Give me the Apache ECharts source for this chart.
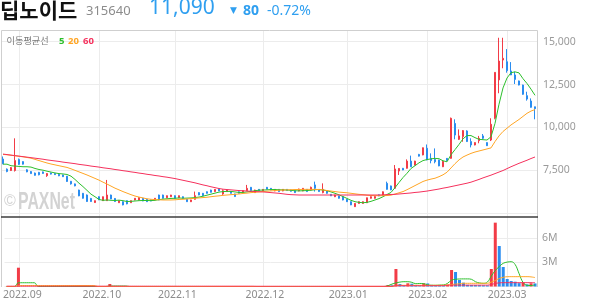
<!DOCTYPE html>
<html><head><meta charset="utf-8">
<script src="https://cdn.jsdelivr.net/npm/echarts@6/dist/echarts.min.js"></script>
<style>html,body{margin:0;padding:0;background:#fff}#c{width:594px;height:304px}</style>
</head><body><div id="c"></div>
<script>
// trading days per month (categories)
const monthDays = [
  ['2022.08', [26,29,30,31]],
  ['2022.09', [1,2,5,6,7,8,13,14,15,16,19,20,21,22,23,26,27,28,29,30]],
  ['2022.10', [4,5,6,7,11,12,13,14,17,18,19,20,21,24,25,26,27,28,31]],
  ['2022.11', [1,2,3,4,7,8,9,10,11,14,15,16,17,18,21,22,23,24,25,28,29,30]],
  ['2022.12', [1,2,5,6,7,8,9,12,13,14,15,16,19,20,21,22,23,26,27,28,29]],
  ['2023.01', [2,3,4,5,6,9,10,11,12,13,16,17,18,19,20,25,26,27,30,31]],
  ['2023.02', [1,2,3,6,7,8,9,10,13,14,15,16,17,20,21,22,23,24,27,28]],
  ['2023.03', [2,3,6,7,8,9,10,13]]
];
const categories = [];
monthDays.forEach(([m, ds]) => ds.forEach(d => categories.push(m + '.' + String(d).padStart(2, '0'))));

// OHLC rows: [open, high, low, close]
const ohlc = [
[8150,8300,7850,7870],[7560,7600,7380,7420],[7480,7680,7450,7650],[7480,9360,7420,8060],[8120,8180,7800,7840],
[8000,8020,7830,7850],[7520,7560,7380,7400],[7420,7450,7290,7300],[7330,7360,7180,7200],[7370,7400,7200,7230],
[7400,7420,7290,7310],[7180,7330,7110,7300],[7330,7360,7250,7270],[7300,7320,7220,7240],[7260,7280,7150,7170],
[7220,7240,7100,7120],[7150,7160,6820,6840],[6850,6870,6660,6700],[6700,6720,6560,6580],[6340,6360,5980,6000],
[6150,6170,5840,5860],[6050,6080,5650,5670],[5850,5880,5650,5670],[5610,5730,5590,5720],[5950,5970,5750,5770],
[5720,5960,5700,5950],[5720,6930,5700,6050],[6050,6070,5810,5820],[5850,5870,5650,5670],[5600,5730,5590,5720],
[5660,5680,5450,5470],[5720,5740,5510,5530],[5600,5730,5590,5720],[5760,5870,5740,5860],[5760,5920,5740,5900],
[5860,5880,5690,5700],[5800,5820,5650,5660],[5760,5780,5690,5700],[5760,5870,5740,5860],[6050,6070,5750,5760],
[6050,6070,5840,5860],[5890,6020,5870,6010],[5950,6060,5930,6050],[6010,6030,5840,5860],[5890,6020,5870,6010],
[5950,5970,5840,5860],[5800,5820,5650,5660],[5660,5770,5640,5760],[5800,6250,5780,6010],[6190,6210,6040,6050],
[6150,6170,6000,6010],[6240,6260,6140,6150],[6340,6360,6200,6210],[6250,6400,6230,6380],[6420,6440,6280,6290],
[6110,6380,6060,6300],[6250,6360,6230,6340],[6240,6260,6140,6150],[6110,6130,5950,5960],[6240,6260,6140,6150],
[6210,6320,6190,6300],[6310,6640,6290,6440],[6500,6520,6300,6310],[6190,6360,6170,6340],[6380,6400,6280,6290],
[6300,6400,6280,6380],[6500,6520,6380,6390],[6440,6460,6330,6340],[6290,6400,6270,6380],[6380,6400,6240,6250],
[6290,6400,6270,6380],[6380,6400,6300,6310],[6340,6360,6250,6270],[6300,6320,6170,6190],[6290,6420,6270,6400],
[6290,6460,6270,6440],[6380,6400,6240,6250],[6340,6540,6320,6500],[6640,6830,6250,6440],[6380,6400,6240,6250],
[6190,6730,6150,6380],[6300,6320,6130,6150],[6090,6110,5990,6000],[5950,6060,5930,6050],[5990,6010,5840,5860],
[5950,5970,5740,5760],[5800,5820,5650,5660],[5660,5680,5460,5470],[5370,5580,5350,5560],[5560,5680,5540,5660],
[5560,5680,5540,5660],[5600,5900,5580,5890],[5860,5970,5840,5950],[5860,5980,5840,5960],[6060,6080,5980,6000],
[6050,6260,6030,6240],[6730,6830,6360,6380],[6580,6600,6330,6350],[6440,7800,6420,7570],[7450,7620,7220,7600],
[7610,7630,7500,7510],[7610,8130,7590,8030],[8030,8350,7680,7700],[7800,8050,7780,8030],[8420,8450,8300,8320],
[8390,8820,8370,8810],[8780,9000,8080,8100],[8190,8480,7900,8060],[8130,8770,7900,7990],[8090,8110,7730,7750],
[7700,8040,7680,8020],[8190,8210,8030,8060],[8190,10570,8170,10530],[10230,10470,9300,9550],[9300,9880,9260,9500],
[9460,9840,9160,9810],[9790,9830,9150,9170],[9170,9360,8830,8970],[8970,9130,8950,9110],[9220,9500,9070,9360],
[9500,9610,9290,9360],[9110,9130,8910,8930],[9260,10530,9200,10180],[10530,13210,10470,13210],[12770,15230,11990,13870],
[13930,15230,13450,14030],[13830,14570,13190,13310],[13290,13810,13050,13060],[13060,13250,12530,12800],[12710,12730,12450,12470],
[12470,12490,11900,11930],[11850,12080,11560,11650],[11540,11690,11150,11170],[11200,11210,10470,11090]
];

// price moving averages
const ma5 = [
7850,7850,7760,7740,7720,7700,7700,7680,7600,7540,
7500,7440,7390,7340,7300,7280,7250,7150,6960,6740,
6540,6320,6100,5950,5790,5740,5760,5740,5730,5750,
5720,5670,5680,5700,5720,5730,5730,5720,5740,5780,
5810,5830,5850,5860,5880,5860,5870,5880,5900,5930,
5980,6040,6100,6160,6220,6250,6260,6260,6230,6200,
6200,6230,6260,6300,6330,6340,6350,6370,6370,6360,
6350,6340,6320,6300,6290,6300,6310,6330,6360,6370,
6340,6300,6230,6150,6060,5960,5850,5740,5660,5620,
5600,5620,5680,5760,5840,5950,6080,6200,6480,6780,
7070,7320,7600,7760,7930,8060,8120,8160,8190,8170,
8050,7990,8400,8700,9000,9330,9520,9520,9400,9300,
9280,9260,9450,10230,11350,12300,12880,13190,13240,13180,
12840,12560,12230,11870];
const ma20 = [
8420,8400,8370,8340,8310,8280,8240,8200,8130,8060,
7990,7920,7860,7810,7760,7710,7660,7580,7490,7400,
7310,7220,7120,7020,6920,6800,6690,6570,6450,6350,
6250,6160,6070,5990,5930,5880,5830,5800,5780,5770,
5760,5760,5760,5770,5790,5800,5820,5840,5860,5880,
5900,5920,5950,5980,6000,6030,6050,6070,6090,6110,
6140,6160,6190,6210,6230,6250,6270,6290,6310,6330,
6340,6350,6360,6370,6370,6380,6380,6380,6380,6370,
6350,6310,6280,6250,6220,6200,6180,6150,6120,6090,
6070,6040,6020,6010,6010,6010,6020,6040,6110,6180,
6250,6360,6480,6600,6720,6840,6920,6980,7030,7120,
7230,7380,7630,7880,8100,8270,8380,8480,8560,8620,
8680,8740,8800,9170,9500,9760,9950,10140,10300,10460,
10640,10820,10950,11040];
const ma60 = [
8440,8410,8380,8350,8320,8290,8260,8230,8200,8170,
8140,8100,8070,8040,8010,7970,7940,7910,7880,7840,
7810,7780,7740,7710,7680,7640,7610,7580,7540,7510,
7470,7440,7400,7370,7330,7300,7260,7230,7190,7160,
7120,7090,7050,7010,6960,6910,6860,6810,6760,6700,
6640,6590,6530,6480,6430,6390,6370,6350,6330,6310,
6300,6280,6270,6250,6240,6230,6210,6190,6170,6150,
6120,6090,6070,6060,6050,6050,6050,6050,6050,6050,
6050,6050,6050,6050,6050,6050,6050,6050,6050,6050,
6050,6050,6050,6050,6050,6060,6070,6080,6090,6110,
6130,6150,6170,6200,6220,6250,6280,6320,6360,6400,
6450,6490,6540,6590,6640,6690,6740,6800,6880,6960,
7050,7130,7210,7300,7390,7480,7590,7700,7800,7900,
7990,8080,8180,8270];

// volume in millions
const volume = [
0,0,0,2.35,0,0,0,0,0,0,
0,0,0,0,0,0,0,0,0,0,
0,0,0,0,0,0,0.31,0,0,0,
0,0,0,0,0,0,0,0,0,0,
0,0,0,0,0,0,0,0,0,0,
0,0,0,0,0,0,0,0,0,0,
0,0,0,0,0,0,0,0,0,0,
0,0,0,0,0,0,0,0,0,0,
0,0,0,0,0,0,0,0,0,0,
0,0,0,0,0,0,0.19,0.15,2.19,0.31,
0.12,0.4,0.35,0.1,0.05,0.4,0.38,0.2,0.18,0.15,
0.1,0.2,2.06,1.81,0.81,0.48,0.2,0.19,0.18,0.17,
0.15,0.14,2.19,7.98,5.06,2.44,0.94,0.69,0.6,0.42,
0.52,0.27,0.4,0.38];
const vma5 = [
0,0,0,0.47,0.47,0.47,0.47,0.47,0,0,
0,0,0,0,0,0,0,0,0,0,
0,0,0,0,0,0,0.06,0.06,0.06,0.06,
0.06,0,0,0,0,0,0,0,0,0,
0,0,0,0,0,0,0,0,0,0,
0,0,0,0,0,0,0,0,0,0,
0,0,0,0,0,0,0,0,0,0,
0,0,0,0,0,0,0,0,0,0,
0,0,0,0,0,0,0,0,0,0,
0,0,0,0,0,0,0.1,0.3,0.45,0.55,
0.6,0.6,0.52,0.35,0.38,0.35,0.2,0.15,0.15,0.18,
0.2,0.4,0.8,0.9,0.94,0.95,0.95,0.9,0.6,0.45,
0.4,0.55,1.3,2.0,2.5,2.9,3.05,3.1,2.75,1.6,
0.5,0.15,0.12,0.2];
const vma20 = [
0,0,0,0.12,0.12,0.12,0.12,0.12,0.12,0.12,
0.12,0.12,0.12,0.12,0.12,0.12,0.12,0.12,0.12,0.12,
0.12,0.12,0.12,0,0,0,0,0,0,0,
0,0,0,0,0,0,0,0,0,0,
0,0,0,0,0,0,0,0,0,0,
0,0,0,0,0,0,0,0,0,0,
0,0,0,0,0,0,0,0,0,0,
0,0,0,0,0,0,0,0,0,0,
0,0,0,0,0,0,0,0,0,0,
0,0,0,0,0,0,0,0,0.15,0.15,
0.15,0.15,0.15,0.15,0.15,0.15,0.15,0.15,0.15,0.15,
0.15,0.2,0.25,0.3,0.35,0.4,0.4,0.4,0.4,0.4,
0.4,0.4,0.55,0.75,1.0,1.15,1.22,1.23,1.23,1.23,
1.23,1.23,1.2,1.12];
const vma60 = [
0.04,0.04,0.04,0.04,0.04,0.04,0.04,0.04,0.04,0.04,
0.04,0.04,0.04,0.04,0.04,0.04,0.04,0.04,0.04,0.04,
0.04,0.04,0.04,0.04,0.04,0.04,0.04,0.04,0.04,0.04,
0.04,0.04,0.04,0.04,0.04,0.04,0.04,0.04,0.04,0.04,
0.04,0.04,0.04,0.04,0.04,0.04,0.04,0.04,0.04,0.04,
0.04,0.04,0.04,0.04,0.04,0.04,0.04,0.04,0.04,0.04,
0.04,0.04,0.04,0.03,0.03,0.03,0.03,0.03,0.03,0.03,
0.03,0.03,0.03,0.03,0.03,0.03,0.03,0.03,0.03,0.03,
0.03,0.03,0.03,0.03,0.03,0.03,0.03,0.03,0.03,0.03,
0.03,0.03,0.03,0.03,0.03,0.03,0.03,0.03,0.1,0.1,
0.1,0.1,0.1,0.1,0.1,0.1,0.1,0.1,0.1,0.1,
0.1,0.17,0.17,0.17,0.17,0.17,0.17,0.17,0.17,0.17,
0.17,0.17,0.25,0.38,0.45,0.48,0.48,0.48,0.48,0.48,
0.48,0.48,0.48,0.48];

const yTicks = [5000, 7500, 10000, 12500, 15000];
const volTicks = [0, 3, 6];

const C_UP = '#f23c47', C_DN = '#2a8df0';
const C5 = '#2cbf2c', C20 = '#ffa524', C60 = '#f5305c';
const GRID = '#ececec';

const isMonthStart = i => i > 0 && categories[i].slice(0, 7) !== categories[i - 1].slice(0, 7);
const comma = v => String(v).replace(/\B(?=(\d{3})+(?!\d))/g, ',');

const candleData = ohlc.map(r => [r[0], r[3], r[2], r[1]]);
const volData = volume.map((v, i) => ({
  value: v,
  itemStyle: { color: (i > 0 && v < volume[i - 1]) ? C_DN : C_UP }
}));

const chart = echarts.init(document.getElementById('c'));
const lineS = (name, data, color, xi, smooth) => ({
  name, type: 'line', data, xAxisIndex: xi, yAxisIndex: xi, symbol: 'none', smooth: smooth,
  lineStyle: { color, width: 1 }, silent: true, animation: false
});

chart.setOption({
  animation: false,
  grid: [
    { left: 1, right: 57, top: 41.7, height: 171.3 },
    { left: 1, right: 57, top: 238.5, height: 48 },
    { left: 3, right: 59, top: 30, height: 256.5 }
  ],
  xAxis: [
    { type: 'category', gridIndex: 0, data: categories, boundaryGap: true,
      axisLine: { show: false }, axisTick: { show: false }, axisLabel: { show: false }, splitLine: { show: false } },
    { type: 'category', gridIndex: 1, data: categories, boundaryGap: true,
      axisLine: { show: false }, axisTick: { show: false }, splitLine: { show: false },
      axisLabel: { show: true, interval: (i) => isMonthStart(i), formatter: v => v.slice(0, 7),
        color: '#8c8c8c', fontSize: 10.5, fontFamily: 'Noto Sans', margin: 3 } },
    { type: 'category', gridIndex: 2, data: categories, boundaryGap: false,
      axisLine: { show: false }, axisTick: { show: false }, axisLabel: { show: false },
      splitLine: { show: true, interval: (i) => isMonthStart(i), lineStyle: { color: GRID, width: 1 } } }
  ],
  yAxis: [
    { type: 'value', gridIndex: 0, position: 'right', min: yTicks[0], max: yTicks[yTicks.length - 1], interval: 2500,
      axisLine: { show: false }, axisTick: { show: false },
      splitLine: { lineStyle: { color: GRID, width: 1 } },
      axisLabel: { color: '#9a9a9a', fontSize: 10.5, fontFamily: 'Noto Sans', margin: 6, padding: [4, 0, 0, 0],
        formatter: v => v === yTicks[0] ? '' : comma(v) } },
    { type: 'value', gridIndex: 1, position: 'right', min: volTicks[0], max: volTicks[2], interval: 3,
      axisLine: { show: false }, axisTick: { show: false },
      splitLine: { lineStyle: { color: GRID, width: 1 } },
      axisLabel: { color: '#9a9a9a', fontSize: 10.5, fontFamily: 'Noto Sans', margin: 5, padding: [2, 0, 0, 0],
        formatter: v => v === 0 ? '' : v + 'M' } },
    { type: 'value', gridIndex: 2, show: false, min: 0, max: 1 }
  ],
  series: [
    { type: 'candlestick', xAxisIndex: 0, yAxisIndex: 0, data: candleData, barWidth: 2, clip: false,
      itemStyle: { color: C_UP, color0: C_DN, borderColor: C_UP, borderColor0: C_DN, borderWidth: 1 } },
    lineS('MA5', ma5, C5, 0, false),
    lineS('MA20', ma20, C20, 0, false),
    lineS('MA60', ma60, C60, 0, false),
    { type: 'bar', xAxisIndex: 1, yAxisIndex: 1, data: volData, barWidth: 3, clip: false, silent: true },
    lineS('V5', vma5, C5, 1, 0.4),
    lineS('V20', vma20, C20, 1, 0.4),
    lineS('V60', vma60, C60, 1, 0.4)
  ],
  graphic: [
    // watermark
    { type: 'text', x: 4, y: 202, z: 1, style: { text: '©', font: '16px "Liberation Sans"', fill: '#d3d3d3', verticalAlign: 'middle' } },
    { type: 'text', x: 18, y: 202.5, z: 1, scaleX: 0.66, style: { text: 'PAXNet', font: 'bold 24px "Liberation Sans"', fill: '#d3d3d3', verticalAlign: 'middle' } },
    // frame
    { type: 'polyline', z: 50, shape: { points: [[1.5, 287], [1.5, 30.5], [537.5, 30.5], [537.5, 287]] },
      style: { stroke: '#cfcfcf', lineWidth: 1, fill: null } },
    { type: 'line', z: 50, shape: { x1: 1, y1: 217, x2: 538, y2: 217 }, style: { stroke: '#3c3c3c', lineWidth: 1.5 } },
    // header
    { type: 'text', x: 0, y: 10, style: { text: '딥노이드', font: 'bold 21px "Noto Sans CJK KR"', fill: '#111', verticalAlign: 'middle' } },
    { type: 'text', x: 86, y: 11, style: { text: '315640', font: '13px "Noto Sans"', fill: '#8c8c8c', verticalAlign: 'middle' } },
    { type: 'text', x: 149, y: 8.5, style: { text: '11,090', font: '21px "Noto Sans"', fill: '#2f9ff0', verticalAlign: 'middle' } },
    { type: 'text', x: 230, y: 10.5, style: { text: '▼', font: '9px "DejaVu Sans"', fill: '#2f9ff0', verticalAlign: 'middle' } },
    { type: 'text', x: 243, y: 11, style: { text: '80', font: 'bold 14px "Noto Sans"', fill: '#2f9ff0', verticalAlign: 'middle' } },
    { type: 'text', x: 267, y: 11, style: { text: '-0.72%', font: '14px "Noto Sans"', fill: '#2f9ff0', verticalAlign: 'middle' } },
    // legend
    { type: 'text', x: 6.5, y: 41, z: 60, style: { text: '이동평균선', font: '9.2px "Noto Sans CJK KR"', fill: '#7a7a7a', verticalAlign: 'middle' } },
    { type: 'text', x: 59, y: 41, z: 60, style: { text: '5', font: 'bold 9.5px "Noto Sans"', fill: C5, verticalAlign: 'middle' } },
    { type: 'text', x: 68, y: 41, z: 60, style: { text: '20', font: 'bold 9.5px "Noto Sans"', fill: C20, verticalAlign: 'middle' } },
    { type: 'text', x: 83, y: 41, z: 60, style: { text: '60', font: 'bold 9.5px "Noto Sans"', fill: C60, verticalAlign: 'middle' } }
  ]
});
</script>
</body></html>
